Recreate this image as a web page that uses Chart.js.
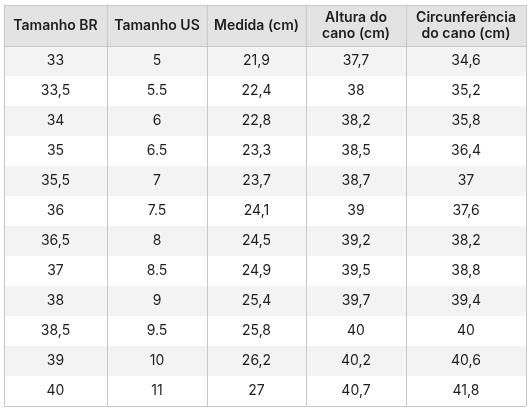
<!DOCTYPE html><html><head><style>html,body{margin:0;padding:0;background:#fff}#w{width:530px;height:410px}</style>
<script src="https://cdn.jsdelivr.net/npm/chart.js"></script></head><body><div id="w"><canvas id="c"></canvas></div>
<script>
const headers=[["Tamanho BR"],["Tamanho US"],["Medida (cm)"],["Altura do","cano (cm)"],["Circunferência","do cano (cm)"]];
const tamanhoBR=["33","33,5","34","35","35,5","36","36,5","37","38","38,5","39","40"];
const tamanhoUS=["5","5.5","6","6.5","7","7.5","8","8.5","9","9.5","10","11"];
const medida=["21,9","22,4","22,8","23,3","23,7","24,1","24,5","24,9","25,4","25,8","26,2","27"];
const altura=["37,7","38","38,2","38,5","38,7","39","39,2","39,5","39,7","40","40,2","40,7"];
const circ=["34,6","35,2","35,8","36,4","37","37,6","38,2","38,8","39,4","40","40,6","41,8"];
const colEdges=[4,107,207,306,406,526];
const headerBottom=46,rowH=30,tableTop=5;
const cols=[tamanhoBR,tamanhoUS,medida,altura,circ];
const tablePlugin={id:'tbl',afterDraw(ch){
 const ctx=ch.ctx,x=ch.scales.x,y=ch.scales.y;
 const X=v=>x.getPixelForValue(v),Y=v=>y.getPixelForValue(v);
 const n=tamanhoBR.length,bottom=headerBottom+n*rowH;
 ctx.save();
 ctx.fillStyle='#e3e3e3';ctx.fillRect(X(colEdges[0]),Y(tableTop),X(colEdges[5])-X(colEdges[0]),Y(headerBottom)-Y(tableTop));
 for(let r=0;r<n;r++){ if(r%2===0){ctx.fillStyle='#f3f3f3';ctx.fillRect(X(colEdges[0]),Y(headerBottom+r*rowH),X(colEdges[5])-X(colEdges[0]),rowH);} }
 ctx.strokeStyle='#c8c8c8';ctx.lineWidth=1;
 ctx.beginPath();
 colEdges.forEach(c=>{ctx.moveTo(Math.round(X(c))+0.5,Y(tableTop));ctx.lineTo(Math.round(X(c))+0.5,Y(bottom));});
 [tableTop,headerBottom,bottom].forEach(v=>{ctx.moveTo(X(colEdges[0]),Math.round(Y(v))+0.5);ctx.lineTo(X(colEdges[5]),Math.round(Y(v))+0.5);});
 ctx.stroke();
 ctx.textAlign='center';ctx.textBaseline='middle';ctx.fillStyle='#1e1e1e';
 ctx.font='600 14px Inter, Roboto, sans-serif';
 headers.forEach((h,i)=>{const cx=(X(colEdges[i])+X(colEdges[i+1]))/2,cy=(Y(tableTop)+Y(headerBottom))/2;
  if(h.length===1)ctx.fillText(h[0],cx,cy);else{ctx.fillText(h[0],cx,cy-8);ctx.fillText(h[1],cx,cy+8);}});
 ctx.font='400 14px Inter, Roboto, sans-serif';
 cols.forEach((col,i)=>{const cx=(X(colEdges[i])+X(colEdges[i+1]))/2;
  col.forEach((v,r)=>ctx.fillText(v,cx,Y(headerBottom+r*rowH+rowH/2)));});
 ctx.restore();}};
new Chart(document.getElementById('c'),{type:'scatter',data:{datasets:[{data:[]}]},
 options:{responsive:true,maintainAspectRatio:false,animation:false,layout:{padding:0},
 plugins:{legend:{display:false},tooltip:{enabled:false}},
 scales:{x:{type:'linear',min:0,max:530,display:false},y:{type:'linear',min:0,max:410,reverse:true,display:false}}},
 plugins:[tablePlugin]});
</script></body></html>
